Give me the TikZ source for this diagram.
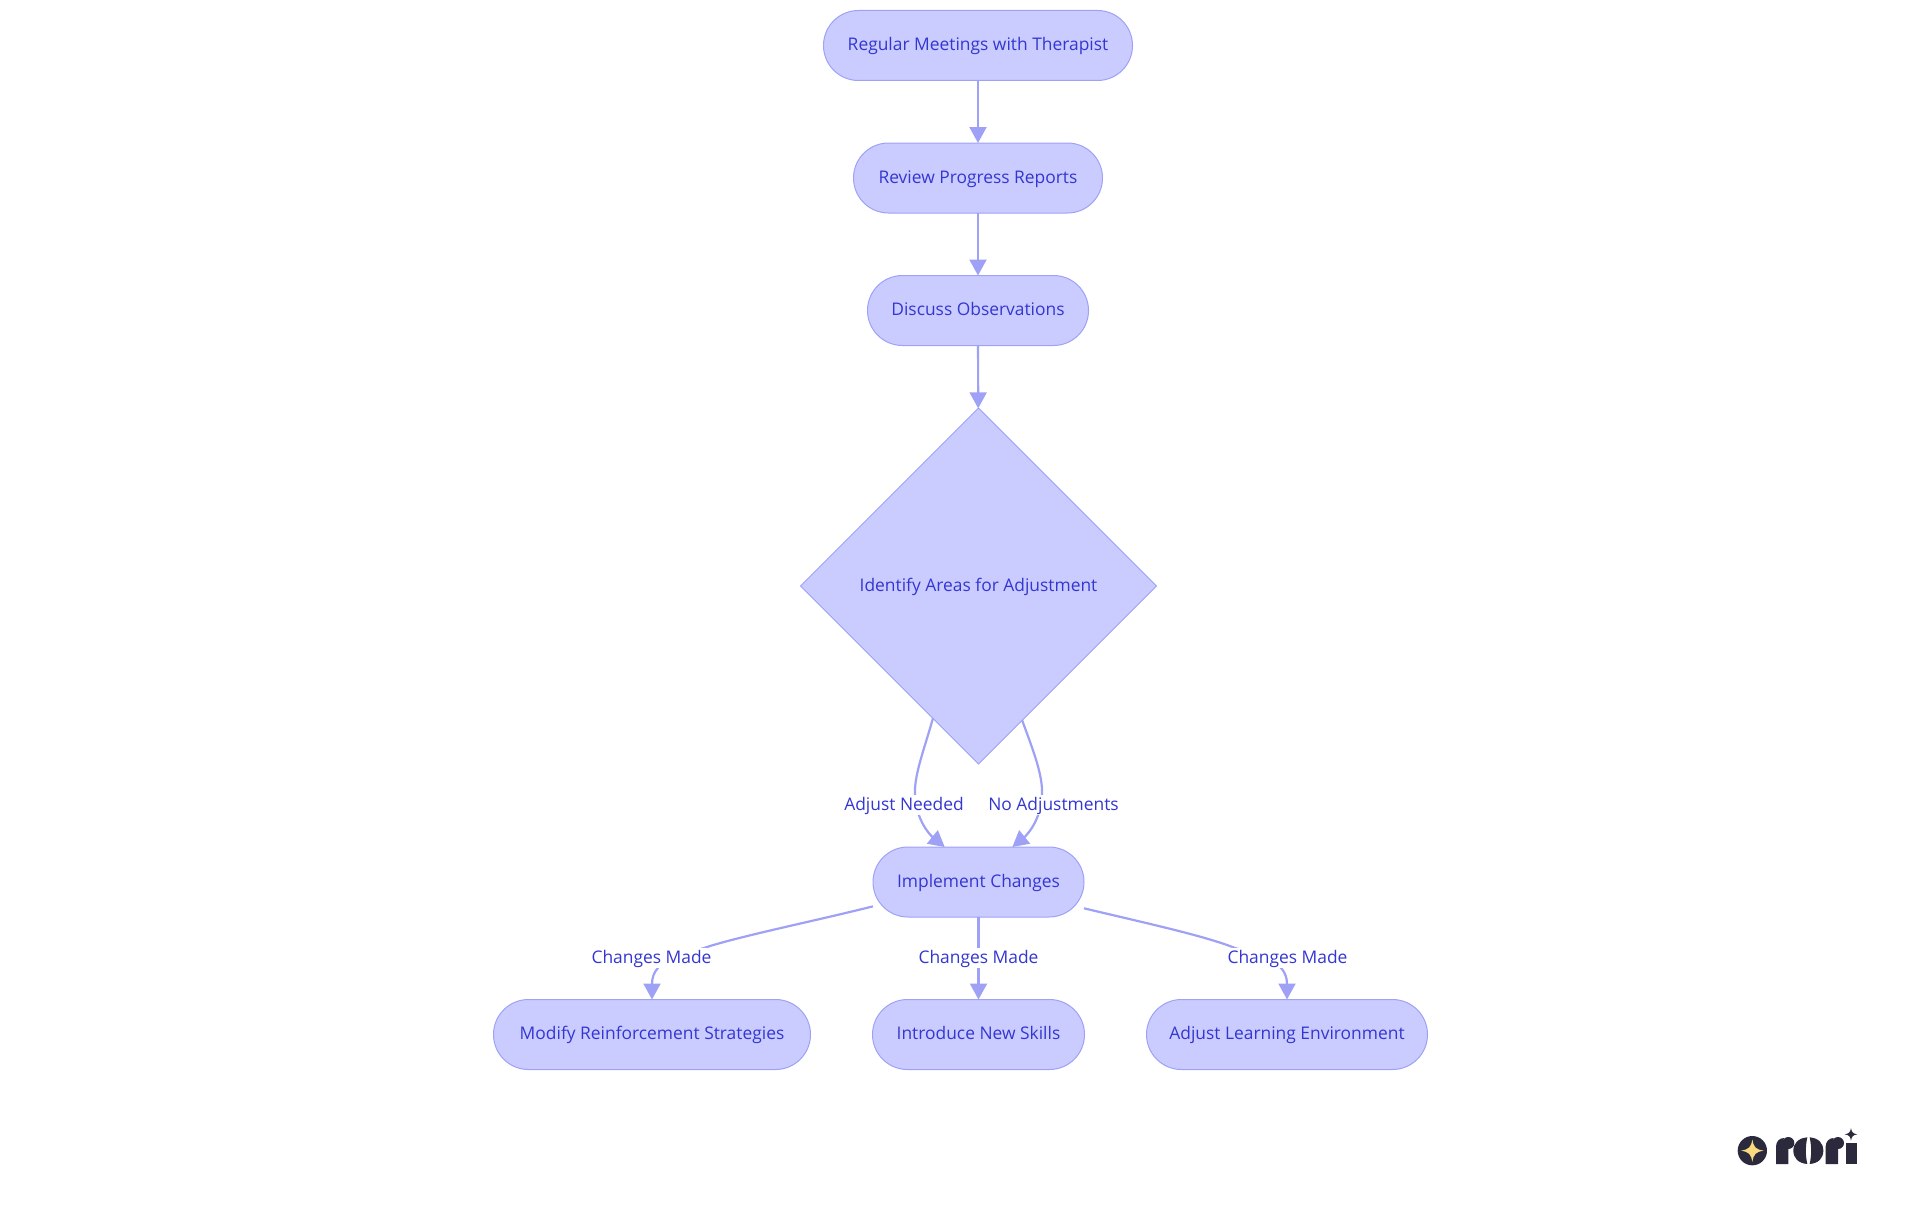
\documentclass[tikz,border=0pt]{standalone}
\usepackage{fontspec}
\setmainfont{Open Sans}
\usetikzlibrary{arrows.meta,shapes.geometric}
\definecolor{nodefill}{HTML}{CACCFF}
\definecolor{nodeline}{HTML}{9EA1F5}
\definecolor{nodetext}{HTML}{3436D2}
\definecolor{logodark}{HTML}{2A2A3C}
\definecolor{logostar}{HTML}{FAD97F}
\tikzset{
  txt/.style={text=nodetext,font=\fontsize{17.4}{21}\selectfont,text height=14pt,text depth=4pt},
  pill/.style={txt,draw=nodeline,fill=nodefill,line width=1pt,rounded corners=35pt,minimum height=70pt,inner sep=0pt,outer sep=0pt},
  choice/.style={txt,diamond,aspect=1,draw=nodeline,fill=nodefill,line width=1pt,minimum width=356pt,minimum height=356pt,inner sep=0pt,outer sep=0pt},
  lbl/.style={txt,fill=white,inner sep=0pt,minimum height=20pt},
  link/.style={draw=nodeline,line width=2.2pt,-{Triangle[length=16pt,width=17pt]}},
}
\begin{document}
\begin{tikzpicture}[x=1pt,y=-1pt]
\useasboundingbox (0,0) rectangle (1920,1215);
\node[pill,minimum width=309pt] (n1) at (978,45.5) {Regular Meetings with Therapist};
\node[pill,minimum width=249pt] (n2) at (978,178) {Review Progress Reports};
\node[pill,minimum width=221pt] (n3) at (978,310.5) {Discuss Observations};
\node[choice] (d) at (978.5,586) {Identify Areas for Adjustment};
\node[pill,minimum width=211pt] (impl) at (978.5,882) {Implement Changes};
\node[pill,minimum width=317pt] (b1) at (652,1034.5) {Modify Reinforcement Strategies};
\node[pill,minimum width=212pt] (b2) at (978.5,1034.5) {Introduce New Skills};
\node[pill,minimum width=281pt] (b3) at (1287,1034.5) {Adjust Learning Environment};

\draw[link] (n1) -- (n2);
\draw[link] (n2) -- (n3);
\draw[link] (n3) -- (d);
\draw[link] (d.251.5) .. controls (924,750) and (914,775) .. (915,795) .. controls (916,820) and (930,835) .. (impl.134);
\draw[link] (d.288.5) .. controls (1033,750) and (1043,775) .. (1042,795) .. controls (1041,820) and (1027,835) .. (impl.46);
\draw[link] (impl.193) .. controls (810,922) and (750,934) .. (710,946) .. controls (685,955) and (652,958) .. (b1.north);
\draw[link] (impl) -- (b2);
\draw[link] (impl.346) .. controls (1150,924) and (1205,936) .. (1235,948) .. controls (1258,955) and (1287,960) .. (b3.north);

\node[lbl] (l1) at (904,805) {Adjust Needed};
\node[lbl] (l2) at (1053.5,805) {No Adjustments};
\node[lbl] (l3) at (651.5,958) {Changes Made};
\node[lbl] (l4) at (978.5,958) {Changes Made};
\node[lbl] (l5) at (1287.5,958) {Changes Made};

% logo
\begin{scope}[shift={(1700,1100)},x=0.3333pt,y=-0.3333pt]
\fill[logodark] (157,152) circle (44);
\fill[logostar] (157,118) .. controls (161,142) and (167,148) .. (191,152) .. controls (167,156) and (161,162) .. (157,186) .. controls (153,162) and (147,156) .. (123,152) .. controls (147,148) and (153,142) .. (157,118) -- cycle;
% r
\fill[logodark] (228,192) -- (228,140) .. controls (228,125) and (238,114) .. (252,114) .. controls (247,125) and (250,140) .. (265,146) -- (265,192) -- cycle;
\fill[logodark] (265,129) circle (18);
% o
\fill[logodark] (322,112) .. controls (295,114) and (280,130) .. (280,152) .. controls (280,174) and (295,190) .. (322,192) .. controls (316,165) and (316,140) .. (322,112) -- cycle;
\fill[logodark] (329,112) .. controls (356,114) and (370,130) .. (370,152) .. controls (370,174) and (356,190) .. (329,192) .. controls (335,165) and (335,140) .. (329,112) -- cycle;
% r
\fill[logodark] (377,192) -- (377,140) .. controls (377,125) and (387,114) .. (401,114) .. controls (396,125) and (399,140) .. (414,146) -- (414,192) -- cycle;
\fill[logodark] (414,129) circle (18);
% i
\fill[logodark] (437,128) -- (470,128) -- (470,192) -- (437,192) -- cycle;
% sparkle
\fill[logodark] (453,84) .. controls (455,97) and (459,101) .. (472,103) .. controls (459,105) and (455,109) .. (453,122) .. controls (451,109) and (447,105) .. (434,103) .. controls (447,101) and (451,97) .. (453,84) -- cycle;
\end{scope}
\end{tikzpicture}
\end{document}
